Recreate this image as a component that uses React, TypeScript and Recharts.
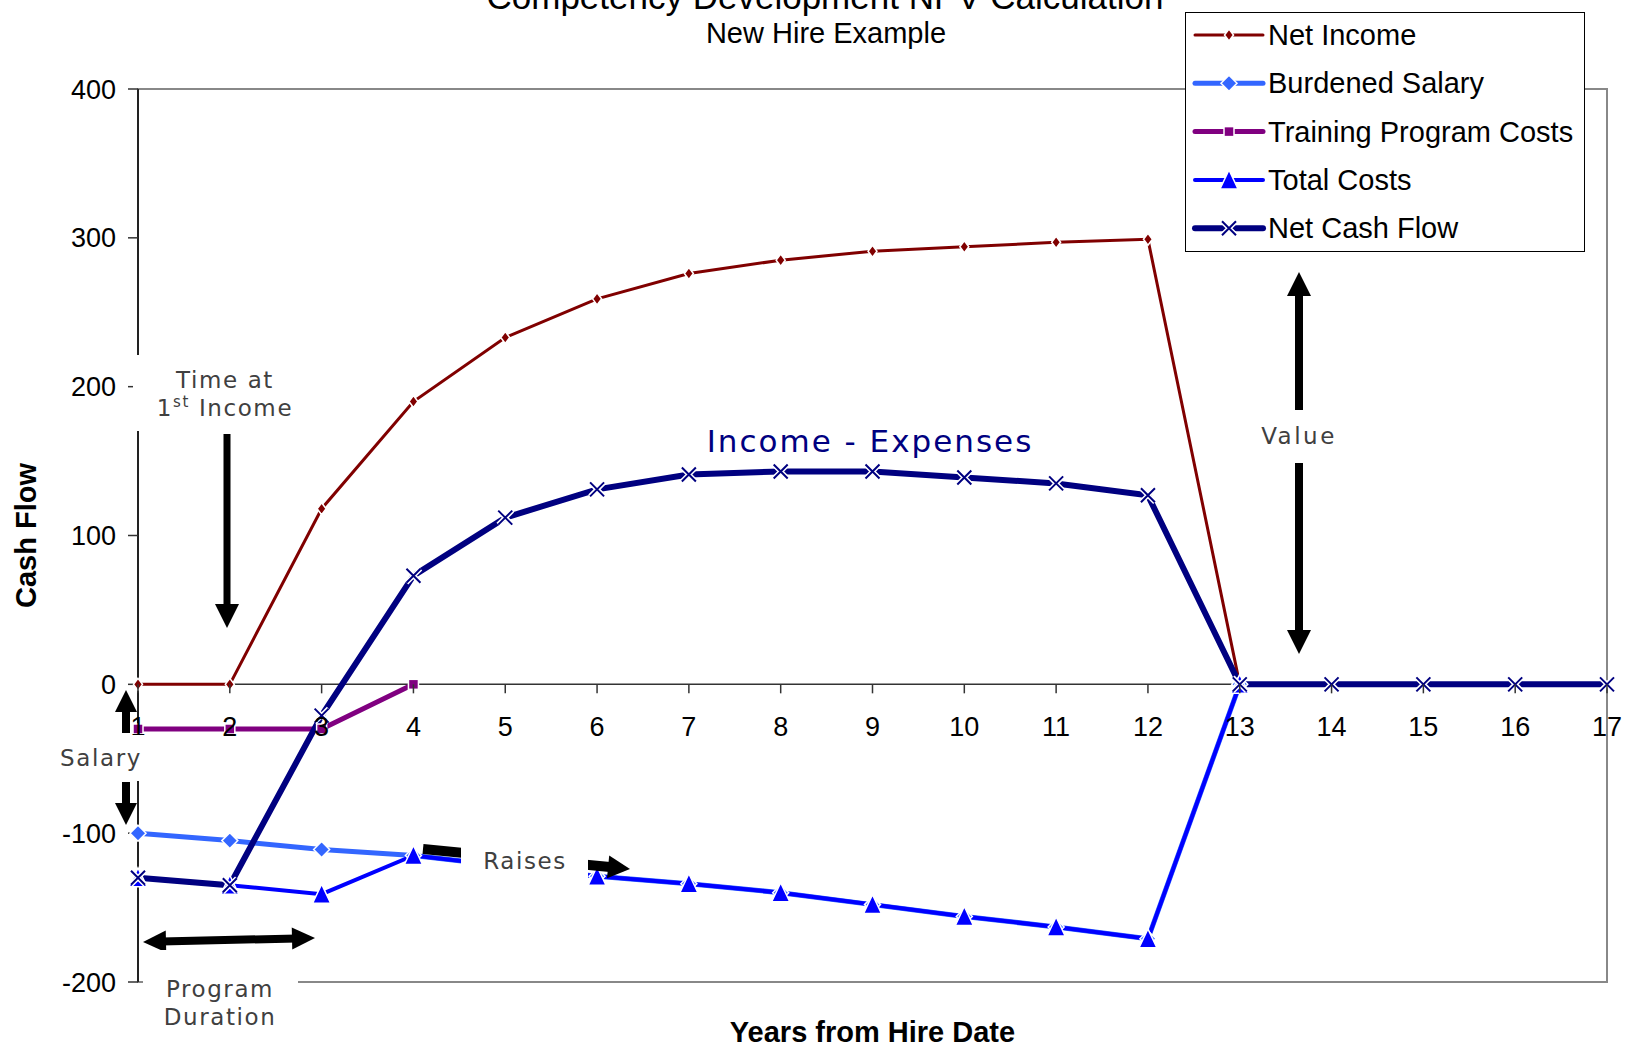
import React from 'react'
import {
  Legend,
  Line,
  LineChart,
  ReferenceArea,
  ReferenceLine,
  XAxis,
  YAxis,
} from 'recharts'

const W = 1627
const H = 1055
const PLOT_TOP = 89
const PLOT_BOTTOM = 982
const Y_MIN = -200
const Y_MAX = 400
const ZERO_Y = PLOT_TOP + (Y_MAX / (Y_MAX - Y_MIN)) * (PLOT_BOTTOM - PLOT_TOP)

const years = ['1', '2', '3', '4', '5', '6', '7', '8', '9', '10', '11', '12', '13', '14', '15', '16', '17']
const yTicks = [-200, -100, 0, 100, 200, 300, 400]

const netIncome = [0, 0, 118, 190, 233, 259, 276, 285, 291, 294, 297, 299, 0, null, null, null, null]
const burdenedSalary = [-100, -105, -111, -115, -122, -129, -134, -140, -148, -156, -163, -171, 0, null, null, null, null]
const trainingCosts = [-30, -30, -30, 0, null, null, null, null, null, null, null, null, null, null, null, null, null]
const totalCosts = [-130, -135, -141, -115, -122, -129, -134, -140, -148, -156, -163, -171, 0, null, null, null, null]
const netCashFlow = [-130, -135, -21, 73, 112, 131, 141, 143, 143, 139, 135, 127, 0, 0, 0, 0, 0]

const rows = years.map((year, i) => ({
  year,
  netIncome: netIncome[i],
  burdenedSalary: burdenedSalary[i],
  trainingCosts: trainingCosts[i],
  totalCosts: totalCosts[i],
  netCashFlow: netCashFlow[i],
}))

type Shape = 'smallDiamond' | 'diamond' | 'square' | 'triangle' | 'cross'

type Series = {
  key: string
  name: string
  color: string
  width: number
  shape: Shape
}

const series: Series[] = [
  { key: 'netIncome', name: 'Net Income', color: '#800000', width: 3, shape: 'smallDiamond' },
  { key: 'burdenedSalary', name: 'Burdened Salary', color: '#3366FF', width: 5, shape: 'diamond' },
  { key: 'trainingCosts', name: 'Training Program Costs', color: '#800080', width: 5, shape: 'square' },
  { key: 'totalCosts', name: 'Total Costs', color: '#0000FF', width: 4, shape: 'triangle' },
  { key: 'netCashFlow', name: 'Net Cash Flow', color: '#000080', width: 6, shape: 'cross' },
]

const SANS = '"Liberation Sans", Arial, sans-serif'
const NOTE = '"DejaVu Sans", Verdana, sans-serif'

function Marker({ shape, cx, cy, color }: { shape: Shape; cx: number; cy: number; color: string }) {
  switch (shape) {
    case 'smallDiamond':
      return (
        <path
          d={`M${cx},${cy - 6}L${cx + 4.5},${cy}L${cx},${cy + 6}L${cx - 4.5},${cy}Z`}
          fill={color}
          stroke="#fff"
          strokeWidth={1.5}
        />
      )
    case 'diamond':
      return (
        <path
          d={`M${cx},${cy - 8}L${cx + 8},${cy}L${cx},${cy + 8}L${cx - 8},${cy}Z`}
          fill={color}
          stroke="#fff"
          strokeWidth={1.5}
        />
      )
    case 'square':
      return <rect x={cx - 5} y={cy - 5} width={10} height={10} fill={color} stroke="#fff" strokeWidth={1.5} />
    case 'triangle':
      return (
        <path
          d={`M${cx},${cy - 10}L${cx + 9},${cy + 9}L${cx - 9},${cy + 9}Z`}
          fill={color}
          stroke="#fff"
          strokeWidth={1.5}
        />
      )
    case 'cross':
      return (
        <g>
          <path
            d={`M${cx - 7},${cy - 7}L${cx + 7},${cy + 7}M${cx + 7},${cy - 7}L${cx - 7},${cy + 7}`}
            stroke="#fff"
            strokeWidth={5}
          />
          <path
            d={`M${cx - 7},${cy - 7}L${cx + 7},${cy + 7}M${cx + 7},${cy - 7}L${cx - 7},${cy + 7}`}
            stroke={color}
            strokeWidth={2}
          />
        </g>
      )
  }
}

const makeDot = (s: Series) => (props: any) => {
  const { cx, cy, index, value } = props
  if (value == null || cx == null || cy == null) return <g key={`${s.key}-${index}`} />
  return (
    <g key={`${s.key}-${index}`}>
      <Marker shape={s.shape} cx={cx} cy={cy} color={s.color} />
    </g>
  )
}

function XTick({ x, payload }: any) {
  return (
    <g>
      <line x1={x} x2={x} y1={ZERO_Y} y2={ZERO_Y + 9} stroke="#333" strokeWidth={1.5} />
      <text x={x} y={ZERO_Y + 52} textAnchor="middle" fontFamily={SANS} fontSize={27} fill="#000">
        {payload.value}
      </text>
    </g>
  )
}

function LegendBox() {
  return (
    <svg width={400} height={240} style={{ display: 'block' }}>
      <rect x={0.5} y={0.5} width={399} height={239} fill="#fff" stroke="#000" strokeWidth={1} />
      {series.map((s, i) => {
        const y = 23 + i * 48.3
        return (
          <g key={s.key}>
            <line x1={10} x2={78} y1={y} y2={y} stroke={s.color} strokeWidth={s.width} strokeLinecap="round" />
            <Marker shape={s.shape} cx={44} cy={y} color={s.color} />
            <text x={83} y={y + 10} fontFamily={SANS} fontSize={29} fill="#000">
              {s.name}
            </text>
          </g>
        )
      })}
    </svg>
  )
}

// arrow with a filled head pointing from (x1,y1) to (x2,y2)
function Arrow({ x1, y1, x2, y2, shaft = 7, head = 24, headLen = 24, twoWay = false }: any) {
  const dx = x2 - x1
  const dy = y2 - y1
  const len = Math.hypot(dx, dy)
  const ux = dx / len
  const uy = dy / len
  const px = -uy
  const py = ux
  const headAt = (tx: number, ty: number, dir: number) => {
    const bx = tx - ux * headLen * dir
    const by = ty - uy * headLen * dir
    return `M${tx},${ty}L${bx + (px * head) / 2},${by + (py * head) / 2}L${bx - (px * head) / 2},${by - (py * head) / 2}Z`
  }
  const sx = twoWay ? x1 + ux * headLen * 0.8 : x1
  const sy = twoWay ? y1 + uy * headLen * 0.8 : y1
  return (
    <g>
      <line
        x1={sx}
        y1={sy}
        x2={x2 - ux * headLen * 0.8}
        y2={y2 - uy * headLen * 0.8}
        stroke="#000"
        strokeWidth={shaft}
      />
      <path d={headAt(x2, y2, 1)} fill="#000" />
      {twoWay && <path d={headAt(x1, y1, -1)} fill="#000" />}
    </g>
  )
}

function Notes() {
  const note = { fontFamily: NOTE, fontSize: 23, fill: '#404040', letterSpacing: 1.6 }
  return (
    <svg
      width={W}
      height={H}
      style={{ position: 'absolute', left: 0, top: 0, pointerEvents: 'none', zIndex: 2 }}
    >
      <text x={825} y={9} textAnchor="middle" fontFamily={SANS} fontSize={35} fill="#000">
        Competency Development NPV Calculation
      </text>
      <text x={826} y={43} textAnchor="middle" fontFamily={SANS} fontSize={29} fill="#000">
        New Hire Example
      </text>

      {/* time at first income */}
      <rect x={133} y={355} width={167} height={76} fill="#fff" />
      <text x={225} y={388} textAnchor="middle" {...note}>
        Time at
      </text>
      <text x={225} y={416} textAnchor="middle" {...note}>
        1<tspan fontSize={15} dy={-9}>st</tspan>
        <tspan dy={9}> Income</tspan>
      </text>
      <Arrow x1={227} y1={434} x2={227} y2={628} />

      {/* salary */}
      <rect x={58} y={735} width={88} height={46} fill="#fff" />
      <text x={101} y={766} textAnchor="middle" {...note}>
        Salary
      </text>
      <Arrow x1={126} y1={733} x2={126} y2={690} shaft={8} head={22} headLen={22} />
      <Arrow x1={126} y1={782} x2={126} y2={825} shaft={8} head={22} headLen={22} />

      {/* program duration */}
      <Arrow x1={143} y1={942} x2={315} y2={938} twoWay shaft={8} head={22} headLen={23} />
      <rect x={143} y={950} width={155} height={80} fill="#fff" />
      <text x={220} y={997} textAnchor="middle" {...note}>
        Program
      </text>
      <text x={220} y={1025} textAnchor="middle" {...note}>
        Duration
      </text>

      {/* raises */}
      <Arrow x1={423} y1={849} x2={630} y2={869} shaft={10} head={23} headLen={22} />
      <rect x={461} y={838} width={127} height={46} fill="#fff" />
      <text x={525} y={869} textAnchor="middle" {...note}>
        Raises
      </text>

      {/* value */}
      <text x={1299} y={444} textAnchor="middle" {...note} letterSpacing={2.5}>
        Value
      </text>
      <Arrow x1={1299} y1={410} x2={1299} y2={272} shaft={8} head={24} headLen={24} />
      <Arrow x1={1299} y1={463} x2={1299} y2={654} shaft={8} head={24} headLen={24} />

      <text
        x={870}
        y={452}
        textAnchor="middle"
        fontFamily={NOTE}
        fontSize={31}
        letterSpacing={2}
        fill="#000080"
      >
        Income - Expenses
      </text>
    </svg>
  )
}

export default function App() {
  return (
    <div style={{ position: 'absolute', left: 0, top: 0, width: W, height: H, background: '#fff' }}>
      <LineChart
        width={W}
        height={H}
        data={rows}
        margin={{ top: PLOT_TOP, right: W - 1607, bottom: 0, left: 0 }}
      >
        <ReferenceArea
          x1="1"
          x2="17"
          y1={Y_MIN}
          y2={Y_MAX}
          fill="none"
          stroke="#888"
          strokeWidth={2}
          ifOverflow="visible"
        />
        <ReferenceLine y={0} stroke="#333" strokeWidth={1.5} />
        <XAxis
          dataKey="year"
          height={H - PLOT_BOTTOM}
          axisLine={false}
          tickLine={false}
          interval={0}
          padding={{ left: 0, right: 0 }}
          tick={<XTick />}
          label={{
            content: (p: any) => {
              const vb = p.viewBox || { x: 138, y: PLOT_BOTTOM, width: 1469 }
              return (
                <text
                  x={vb.x + vb.width / 2}
                  y={vb.y + 60}
                  textAnchor="middle"
                  fontFamily={SANS}
                  fontWeight="bold"
                  fontSize={29}
                  fill="#000"
                >
                  Years from Hire Date
                </text>
              )
            },
          }}
        />
        <YAxis
          width={138}
          domain={[Y_MIN, Y_MAX]}
          ticks={yTicks}
          interval={0}
          allowDataOverflow
          axisLine={{ stroke: '#000', strokeWidth: 1.5 }}
          tickLine={{ stroke: '#333', strokeWidth: 1.5 }}
          tickSize={10}
          tickMargin={12}
          tick={{ fontFamily: SANS, fontSize: 27, fill: '#000' }}
          label={{
            content: (p: any) => {
              const vb = p.viewBox || { x: 0, y: PLOT_TOP, height: PLOT_BOTTOM - PLOT_TOP }
              const cx = vb.x + 26
              const cy = vb.y + vb.height / 2
              return (
                <text
                  x={cx}
                  y={cy}
                  transform={`rotate(-90 ${cx} ${cy})`}
                  textAnchor="middle"
                  dominantBaseline="central"
                  fontFamily={SANS}
                  fontWeight="bold"
                  fontSize={29}
                  fill="#000"
                >
                  Cash Flow
                </text>
              )
            },
          }}
        />
        <Legend
          layout="vertical"
          align="center"
          verticalAlign="middle"
          wrapperStyle={{ position: 'absolute', left: 1185, top: 12, width: 400, height: 240, margin: 0 }}
          content={() => <LegendBox />}
        />
        {series.map((s) => (
          <Line
            key={s.key}
            type="linear"
            dataKey={s.key}
            name={s.name}
            stroke={s.color}
            strokeWidth={s.width}
            dot={makeDot(s)}
            activeDot={false}
            isAnimationActive={false}
          />
        ))}
      </LineChart>
      <Notes />
    </div>
  )
}
